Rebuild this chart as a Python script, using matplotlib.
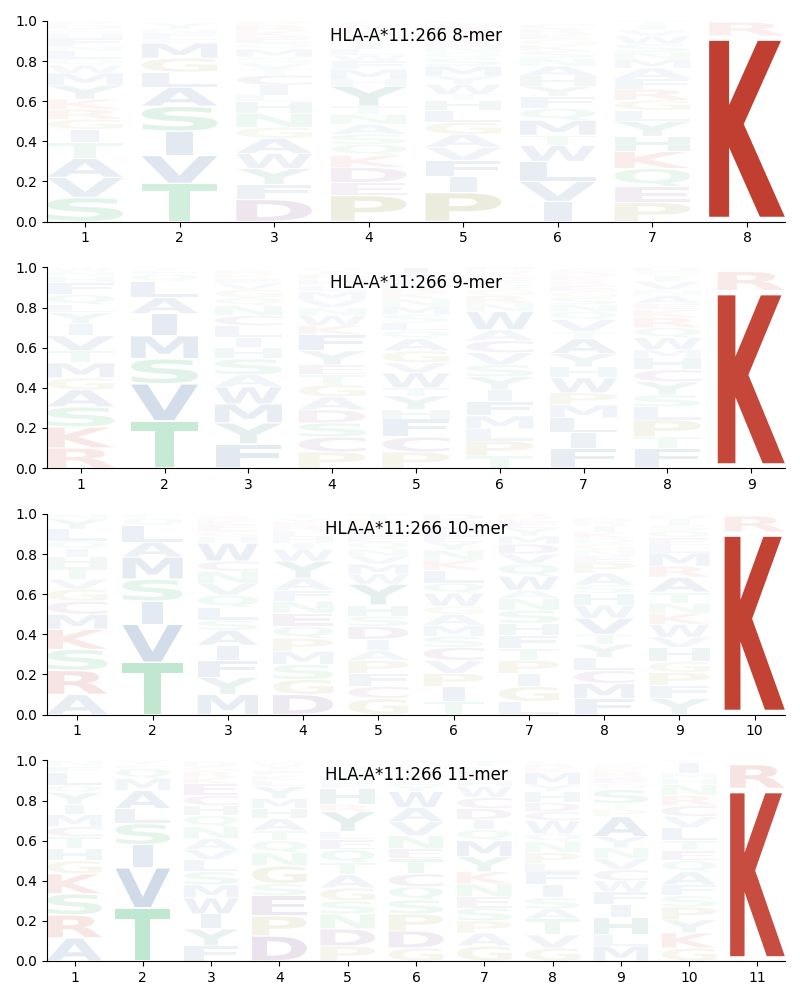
import matplotlib
matplotlib.use("Agg")
import matplotlib.pyplot as plt
from matplotlib.textpath import TextPath
from matplotlib.patches import PathPatch
from matplotlib.font_manager import FontProperties
from matplotlib.transforms import Affine2D

# each column lists (residue, probability) from bottom to top
MER8 = [
    [('S', .12), ('V', .10), ('A', .095), ('T', .08), ('I', .065), ('G', .05), ('R', .05), ('K', .05),
     ('Y', .07), ('M', .06), ('W', .04), ('Q', .03), ('L', .04), ('N', .025), ('F', .04), ('H', .02),
     ('E', .015), ('C', .01), ('D', .02), ('P', .02)],
    [('T', .19), ('V', .14), ('I', .12), ('S', .125), ('A', .095), ('L', .075), ('G', .07), ('M', .075),
     ('E', .02), ('F', .03), ('N', .02), ('Y', .03)],
    [('D', .11), ('F', .075), ('Y', .08), ('W', .075), ('A', .075), ('G', .055), ('N', .07), ('H', .06),
     ('L', .03), ('I', .05), ('C', .05), ('T', .03), ('V', .03), ('S', .03), ('M', .04), ('Q', .03),
     ('E', .03), ('K', .03), ('R', .03), ('P', .02)],
    [('P', .13), ('E', .065), ('D', .075), ('K', .06), ('Q', .055), ('S', .05), ('A', .05), ('N', .05),
     ('T', .04), ('Y', .10), ('H', .035), ('M', .05), ('F', .04), ('W', .03), ('L', .03), ('I', .03),
     ('V', .03), ('G', .03), ('R', .025), ('C', .02)],
    [('P', .145), ('I', .08), ('F', .08), ('V', .065), ('A', .065), ('G', .06), ('L', .06), ('H', .05),
     ('T', .03), ('W', .05), ('Y', .04), ('M', .05), ('S', .04), ('Q', .03), ('N', .03), ('E', .03),
     ('K', .03), ('R', .03), ('D', .02), ('C', .02)],
    [('I', .10), ('V', .10), ('L', .10), ('W', .08), ('T', .05), ('M', .075), ('Q', .06), ('F', .06),
     ('Y', .05), ('H', .05), ('A', .05), ('N', .04), ('S', .035), ('K', .03), ('G', .03), ('E', .025),
     ('R', .025), ('C', .025)],
    [('P', .095), ('E', .08), ('Q', .09), ('K', .085), ('H', .075), ('Y', .075), ('L', .055), ('G', .05),
     ('R', .055), ('F', .05), ('A', .055), ('M', .045), ('N', .035), ('S', .04), ('W', .04), ('V', .03),
     ('I', .025), ('T', .02)],
    [('H', .01), ('N', .01), ('K', .885), ('Q', .01), ('M', .01), ('R', .07)],
]

MER9 = [
    [('R', .10), ('K', .105), ('S', .10), ('A', .085), ('G', .06), ('M', .075), ('T', .06), ('V', .075),
     ('I', .06), ('Y', .055), ('L', .04), ('Q', .05), ('F', .06), ('H', .03), ('N', .025), ('W', .02)],
    [('T', .235), ('V', .185), ('S', .125), ('M', .115), ('I', .11), ('A', .08), ('L', .08), ('Q', .035),
     ('F', .02), ('Y', .015)],
    [('F', .12), ('Y', .105), ('M', .095), ('W', .085), ('A', .06), ('S', .08), ('H', .055), ('I', .05),
     ('L', .06), ('C', .05), ('N', .05), ('Q', .04), ('G', .04), ('V', .03), ('E', .025), ('K', .02),
     ('R', .02), ('T', .015)],
    [('P', .08), ('C', .075), ('S', .07), ('D', .065), ('A', .065), ('G', .06), ('T', .05), ('E', .05),
     ('Y', .07), ('F', .08), ('K', .045), ('W', .05), ('N', .04), ('V', .04), ('M', .04), ('L', .03),
     ('H', .03), ('R', .025), ('I', .02), ('Q', .015)],
    [('P', .08), ('C', .075), ('F', .09), ('H', .045), ('Y', .07), ('T', .04), ('W', .075), ('V', .05),
     ('G', .06), ('A', .06), ('Q', .04), ('L', .04), ('S', .04), ('M', .04), ('N', .04), ('K', .03),
     ('R', .03), ('E', .025), ('D', .025), ('I', .045)],
    [('T', .06), ('P', .075), ('L', .06), ('M', .065), ('F', .07), ('I', .06), ('Y', .065), ('S', .06),
     ('V', .06), ('C', .06), ('A', .055), ('W', .09), ('N', .04), ('R', .04), ('G', .03), ('Q', .03),
     ('E', .03), ('K', .02), ('D', .02), ('H', .02)],
    [('F', .10), ('I', .075), ('L', .075), ('M', .065), ('P', .06), ('W', .075), ('H', .055), ('Y', .065),
     ('A', .075), ('T', .035), ('V', .06), ('Q', .04), ('N', .035), ('S', .035), ('G', .03), ('E', .03),
     ('R', .025), ('K', .02), ('D', .02), ('C', .02)],
    [('F', .10), ('T', .055), ('P', .085), ('L', .065), ('S', .06), ('Y', .065), ('C', .06), ('H', .06),
     ('M', .04), ('W', .06), ('Q', .05), ('R', .05), ('K', .04), ('E', .03), ('A', .04), ('N', .03),
     ('V', .04), ('I', .03), ('G', .02), ('D', .02)],
    [('H', .01), ('N', .01), ('K', .845), ('M', .01), ('Q', .01), ('R', .095), ('S', .01), ('T', .01)],
]

MER10 = [
    [('A', .10), ('R', .12), ('S', .105), ('K', .10), ('M', .075), ('C', .065), ('G', .06), ('V', .05),
     ('T', .06), ('H', .05), ('I', .04), ('Q', .04), ('L', .06), ('Y', .05), ('N', .025)],
    [('T', .26), ('V', .19), ('I', .115), ('S', .11), ('M', .11), ('A', .075), ('L', .08), ('Q', .04),
     ('F', .02)],
    [('M', .10), ('Y', .085), ('F', .085), ('I', .075), ('A', .075), ('S', .05), ('L', .065), ('Q', .06),
     ('V', .06), ('N', .06), ('C', .05), ('W', .09), ('H', .03), ('G', .03), ('E', .03), ('K', .025),
     ('R', .02)],
    [('D', .10), ('G', .075), ('S', .075), ('M', .065), ('P', .065), ('Q', .06), ('E', .065), ('N', .06),
     ('F', .055), ('A', .06), ('Y', .085), ('W', .06), ('I', .03), ('H', .03), ('L', .03), ('R', .025),
     ('K', .02), ('V', .02), ('T', .02)],
    [('G', .08), ('C', .06), ('F', .065), ('P', .065), ('A', .05), ('I', .055), ('D', .065), ('S', .05),
     ('H', .055), ('Y', .105), ('W', .05), ('M', .05), ('V', .04), ('N', .035), ('Q', .035), ('E', .03),
     ('L', .03), ('K', .03), ('R', .025), ('T', .025)],
    [('T', .065), ('I', .075), ('P', .065), ('V', .065), ('C', .065), ('S', .055), ('M', .055), ('A', .055),
     ('G', .04), ('W', .065), ('Q', .05), ('L', .065), ('K', .05), ('N', .05), ('Y', .04), ('E', .035),
     ('F', .035), ('H', .02), ('R', .02), ('D', .03)],
    [('L', .065), ('G', .075), ('I', .065), ('P', .065), ('T', .06), ('F', .065), ('H', .06), ('S', .065),
     ('N', .06), ('A', .04), ('W', .07), ('Q', .06), ('V', .05), ('D', .05), ('M', .04), ('Y', .04),
     ('E', .03), ('K', .02), ('R', .02)],
    [('F', .08), ('M', .075), ('C', .065), ('L', .065), ('Y', .065), ('T', .05), ('V', .08), ('W', .065),
     ('H', .06), ('S', .04), ('A', .06), ('P', .055), ('E', .03), ('N', .03), ('G', .03), ('Q', .03),
     ('K', .03), ('I', .03), ('R', .02), ('D', .02)],
    [('Y', .08), ('F', .065), ('P', .065), ('G', .055), ('H', .07), ('V', .05), ('W', .065), ('K', .055),
     ('N', .05), ('T', .055), ('A', .075), ('R', .055), ('M', .065), ('L', .04), ('E', .035), ('Q', .035),
     ('S', .03), ('I', .03), ('D', .02)],
    [('H', .01), ('N', .01), ('K', .87), ('Q', .01), ('M', .01), ('R', .08), ('S', .01)],
]

MER11 = [
    [('A', .115), ('R', .115), ('S', .105), ('K', .10), ('G', .065), ('H', .06), ('T', .06), ('C', .05),
     ('M', .06), ('I', .05), ('Y', .06), ('Q', .035), ('L', .065), ('F', .03), ('N', .03), ('E', .02)],
    [('T', .265), ('V', .20), ('I', .115), ('S', .105), ('L', .075), ('A', .09), ('M', .06), ('Q', .05),
     ('F', .02), ('Y', .02)],
    [('F', .075), ('Y', .085), ('I', .075), ('W', .08), ('M', .065), ('S', .065), ('L', .06), ('V', .05),
     ('A', .055), ('N', .06), ('Q', .055), ('H', .05), ('C', .05), ('E', .06), ('K', .03), ('R', .03),
     ('G', .025), ('D', .025)],
    [('D', .125), ('P', .10), ('E', .10), ('S', .06), ('G', .09), ('N', .065), ('Q', .06), ('T', .05),
     ('A', .06), ('H', .05), ('M', .05), ('Y', .06), ('L', .03), ('K', .025), ('F', .025), ('I', .02),
     ('W', .02), ('R', .01)],
    [('P', .075), ('D', .085), ('N', .075), ('S', .065), ('G', .065), ('A', .065), ('T', .06), ('Q', .065),
     ('E', .05), ('L', .04), ('Y', .10), ('R', .035), ('H', .08), ('F', .03), ('M', .03), ('W', .025),
     ('V', .025), ('I', .02), ('C', .01)],
    [('G', .065), ('D', .085), ('P', .085), ('S', .07), ('Q', .065), ('C', .065), ('T', .075), ('E', .05),
     ('N', .065), ('V', .07), ('A', .07), ('W', .08), ('Y', .03), ('L', .025), ('F', .025), ('I', .02),
     ('K', .02), ('M', .015), ('R', .02)],
    [('G', .075), ('A', .065), ('P', .06), ('S', .065), ('E', .055), ('N', .065), ('K', .06), ('Y', .075),
     ('M', .08), ('Q', .055), ('I', .05), ('D', .055), ('C', .055), ('W', .055), ('H', .03), ('R', .025),
     ('F', .025), ('L', .02), ('T', .03)],
    [('G', .065), ('V', .065), ('T', .08), ('A', .05), ('S', .055), ('I', .065), ('F', .065), ('L', .04),
     ('P', .055), ('N', .055), ('Q', .04), ('W', .065), ('C', .045), ('D', .045), ('H', .055), ('Y', .035),
     ('M', .06), ('K', .025), ('R', .02), ('E', .015)],
    [('M', .075), ('L', .055), ('H', .085), ('I', .065), ('F', .065), ('W', .055), ('C', .055), ('V', .055),
     ('N', .055), ('Y', .055), ('A', .10), ('P', .035), ('T', .03), ('S', .07), ('Q', .03), ('E', .03),
     ('R', .025), ('K', .02), ('G', .02), ('D', .01)],
    [('G', .065), ('K', .075), ('Y', .065), ('P', .065), ('S', .055), ('F', .055), ('A', .065), ('Q', .055),
     ('E', .05), ('T', .05), ('L', .065), ('V', .055), ('C', .055), ('R', .05), ('N', .055), ('H', .03),
     ('M', .025), ('I', .055), ('W', .01), ('D', .02)],
    [('H', .01), ('N', .01), ('K', .82), ('Q', .01), ('M', .01), ('R', .12), ('S', .01)],
]

LOGOS = [MER8, MER9, MER10, MER11]
TITLES = ['HLA-A*11:266 8-mer', 'HLA-A*11:266 9-mer', 'HLA-A*11:266 10-mer', 'HLA-A*11:266 11-mer']

COLORS = {}
for aa in 'KR':
    COLORS[aa] = '#c0392b'
for aa in 'STNQ':
    COLORS[aa] = '#27ae60'
for aa in 'AVLIMFW':
    COLORS[aa] = '#2e5c99'
for aa in 'HY':
    COLORS[aa] = '#1a7a6a'
for aa in 'DEC':
    COLORS[aa] = '#6c3483'
for aa in 'PG':
    COLORS[aa] = '#8c8c28'

fp = FontProperties(family='DejaVu Sans', weight='bold')
WIDTH = 0.8
# letters are never stretched wider than 'E' would be (narrow ones stay narrow)
E_WIDTH = TextPath((0, 0), 'E', size=1, prop=fp).get_extents().width


def draw_letter(ax, ch, x, y0, h, color, alpha):
    path = TextPath((0, 0), ch, size=1, prop=fp)
    bb = path.get_extents()
    sx = min(WIDTH / bb.width, WIDTH / E_WIDTH)
    w = bb.width * sx
    pad = min(h * 0.03, 0.004)
    hh = h - 2 * pad
    tr = (Affine2D().translate(-bb.x0, -bb.y0)
          .scale(sx, hh / bb.height)
          .translate(x - w / 2, y0 + pad))
    patch = PathPatch(tr.transform_path(path), facecolor=color, edgecolor='none',
                      alpha=alpha)
    ax.add_patch(patch)


fig, axes = plt.subplots(4, 1, figsize=(8, 10), dpi=100)
plt.subplots_adjust(left=0.059, right=0.981, top=0.979, bottom=0.039, hspace=0.229)

for ax, cols, title in zip(axes, LOGOS, TITLES):
    for i, col in enumerate(cols):
        pos = i + 1
        y = 0.0
        for aa, p in col:
            draw_letter(ax, aa, pos, y, p, COLORS[aa], min(1.0, p * 1.1))
            y += p
    n = len(cols)
    ax.set_xlim(0.6, n + 0.4)
    ax.set_ylim(0, 1)
    ax.set_xticks(range(1, n + 1))
    ax.set_yticks([0, 0.2, 0.4, 0.6, 0.8, 1.0])
    ax.spines['top'].set_visible(False)
    ax.spines['right'].set_visible(False)
    ax.text(0.5, 0.925, title, transform=ax.transAxes, ha='center', va='center', fontsize=12)

plt.savefig('out.png', dpi=100)
